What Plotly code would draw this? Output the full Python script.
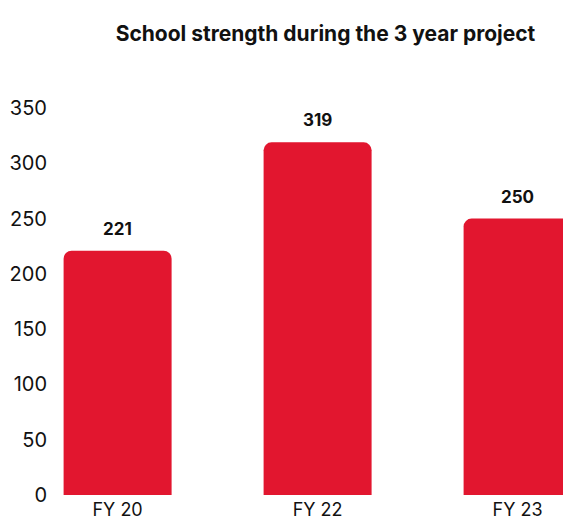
import plotly.graph_objects as go

categories = ["FY 20", "FY 22", "FY 23"]
values = [221, 319, 250]
y_ticks = [0, 50, 100, 150, 200, 250, 300, 350]

RED = "#E2162F"
FONT = "Inter"

fig = go.Figure(go.Bar(
    x=categories, y=values, marker=dict(color=RED, line=dict(width=0)),
    width=0.54, hoverinfo="skip",
))

for c, v in zip(categories, values):
    fig.add_annotation(x=c, y=v, text=f"<b>{v}</b>", showarrow=False,
                       yanchor="bottom", yshift=10,
                       font=dict(family=FONT, size=17, color="#111111"))

fig.update_layout(
    width=571, height=521,
    margin=dict(l=42, r=0, t=89, b=34),
    paper_bgcolor="white", plot_bgcolor="white",
    barcornerradius=8,
    showlegend=False,
    title=dict(text="<b>School strength during the 3 year project</b>",
               x=0.556, xanchor="center", y=0.951, yanchor="middle",
               font=dict(family=FONT, size=21, color="#111111")),
    xaxis=dict(range=[-0.338, 2.307], showgrid=False, zeroline=False,
               showline=False, ticks="", ticklabelstandoff=2,
               tickfont=dict(family=FONT, size=18, color="#111111")),
    yaxis=dict(range=[0, 360], tickvals=y_ticks, showgrid=False, zeroline=False,
               showline=False, ticks="", ticklabelstandoff=2,
               tickfont=dict(family=FONT, size=20, color="#111111")),
)

fig.write_html("out.html")
